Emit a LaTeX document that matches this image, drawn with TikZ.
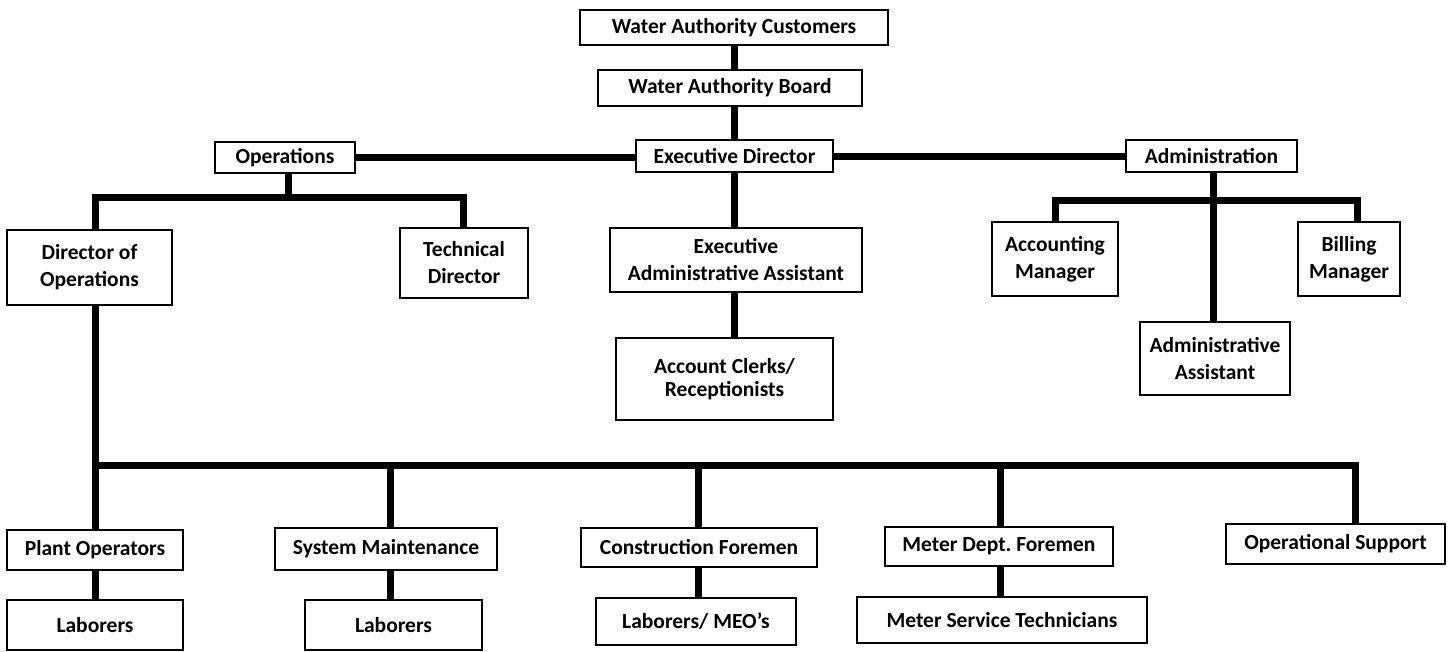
\documentclass[tikz,border=0pt]{standalone}
\usepackage{fontspec}
\setmainfont{Carlito}
\frenchspacing
\begin{document}
\begin{tikzpicture}[x=1pt,y=-1pt,
  box/.style={draw=black, line width=1.3pt, fill=white, inner sep=1pt,
    font=\fontsize{21.5}{27}\selectfont\bfseries, align=center},
  link/.style={line width=7pt, line join=miter}]
\useasboundingbox (0,0) rectangle (1453,651);
% top chain
\node[box, minimum width=308pt, minimum height=35pt] (cust) at (734,27.5) {Water Authority Customers};
\node[box, minimum width=264pt, minimum height=36pt] (board) at (730,88) {Water Authority Board};
\node[box, minimum width=197pt, minimum height=32pt] (exec) at (734.5,156) {Executive Director};
\node[box, minimum width=140pt, minimum height=31pt] (ops) at (285,157.5) {Operations};
\node[box, minimum width=171pt, minimum height=32pt] (admin) at (1211.5,156) {Administration};
% second level
\node[box, minimum width=165pt, minimum height=75pt] (dirops) at (89.5,267.5) {Director of\\Operations};
\node[box, minimum width=128pt, minimum height=70pt] (tech) at (464,263) {Technical\\Director};
\node[box, minimum width=252pt, minimum height=64pt] (eaa) at (736,260) {Executive\\Administrative Assistant};
\node[box, minimum width=217pt, minimum height=82pt] (clerks) at (724.5,379) {\raisebox{3pt}{\shortstack{Account Clerks/\\[4pt]Receptionists}}};
\node[box, minimum width=126pt, minimum height=74pt] (acct) at (1055,259) {Accounting\\Manager};
\node[box, minimum width=102pt, minimum height=74pt] (bill) at (1349,259) {Billing\\Manager};
\node[box, minimum width=150pt, minimum height=73pt] (aasst) at (1215,358.5) {Administrative\\Assistant};
% third level
\node[box, minimum width=176pt, minimum height=40pt] (plant) at (95,550) {Plant Operators};
\node[box, minimum width=222pt, minimum height=42pt] (sysm) at (386,549) {System Maintenance};
\node[box, minimum width=236pt, minimum height=39pt] (constr) at (699,547.5) {Construction Foremen};
\node[box, minimum width=228pt, minimum height=39pt] (meter) at (999,546.5) {Meter Dept. Foremen};
\node[box, minimum width=219pt, minimum height=40pt] (opsup) at (1335.5,544) {Operational Support};
% fourth level
\node[box, minimum width=176pt, minimum height=50pt] (lab1) at (95,625) {Laborers};
\node[box, minimum width=177pt, minimum height=50pt] (lab2) at (393.5,625) {Laborers};
\node[box, minimum width=200pt, minimum height=47pt] (labmeo) at (696,621.5) {Laborers/ MEO’s};
\node[box, minimum width=290pt, minimum height=46pt] (mst) at (1002,620) {Meter Service Technicians};
% junction coordinates
\coordinate (opsbarL) at (95,197);
\coordinate (opsbarR) at (463,197);
\coordinate (opsbarM) at (288,197);
\coordinate (admbarL) at (1055,200);
\coordinate (admbarR) at (1357,200);
\coordinate (bus) at (95,465);
\coordinate (busR) at (1355,465);
% connectors
\draw[link] (cust.south) -- (cust.south |- board.north);
\draw[link] (cust.south |- board.south) -- (cust.south |- exec.north);
\draw[link] (ops.east) -- (exec.west |- ops.east);
\draw[link] (exec.east) -- (admin.west);
\draw[link] (opsbarM |- ops.south) -- (opsbarM);
\draw[link] (opsbarL |- dirops.north) -- (opsbarL) -- (opsbarR) -- (opsbarR |- tech.north);
\draw[link] (exec.south) -- (exec.south |- eaa.north);
\draw[link] (exec.south |- eaa.south) -- (exec.south |- clerks.north);
\draw[link] (1213,0 |- admin.south) -- (1213,0 |- aasst.north);
\draw[link] (admbarL |- acct.north) -- (admbarL) -- (admbarR) -- (admbarR |- bill.north);
\draw[link] (bus |- dirops.south) -- (bus) -- (busR) -- (busR |- opsup.north);
\draw[link] (bus) -- (bus |- plant.north);
\draw[link] (390,465) -- (390,0 |- sysm.north);
\draw[link] (698,465) -- (698,0 |- constr.north);
\draw[link] (1000,465) -- (1000,0 |- meter.north);
\draw[link] (bus |- plant.south) -- (bus |- lab1.north);
\draw[link] (390,0 |- sysm.south) -- (390,0 |- lab2.north);
\draw[link] (698,0 |- constr.south) -- (698,0 |- labmeo.north);
\draw[link] (1000,0 |- meter.south) -- (1000,0 |- mst.north);
\end{tikzpicture}
\end{document}
